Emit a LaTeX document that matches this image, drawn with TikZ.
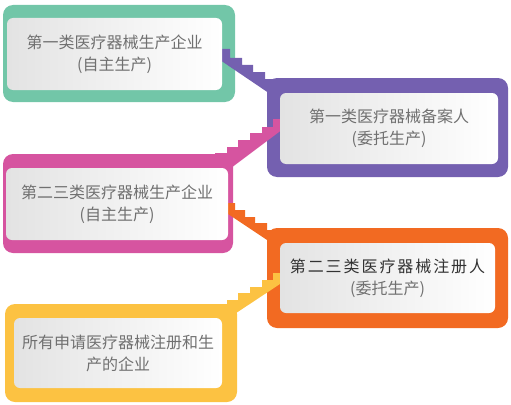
\documentclass[tikz,border=0pt]{standalone}
\usepackage{fontspec}
\setmainfont{Noto Sans CJK SC}
\newfontfamily\cjkspaced[LetterSpace=12]{Noto Sans CJK SC}
\definecolor{cgreen}{RGB}{114,198,168}
\definecolor{cpurple}{RGB}{116,96,176}
\definecolor{cpink}{RGB}{214,84,160}
\definecolor{corange}{RGB}{242,106,34}
\definecolor{cyellow}{RGB}{252,194,66}
\definecolor{ctext}{RGB}{112,112,112}
\definecolor{cdark}{RGB}{50,50,50}
\begin{document}
\begin{tikzpicture}[x=1pt,y=-1pt,
  outerbox/.style={draw=none,rounded corners=10pt,inner sep=0pt},
  innerbox/.style={draw=none,rounded corners=6pt,inner sep=0pt,left color=black!11,right color=white,
    text=ctext,align=center,font=\fontsize{16}{22}\selectfont}]
\useasboundingbox (0,0) rectangle (511,404);
% outer frames
\node[outerbox,fill=cgreen,minimum width=232pt,minimum height=97pt] (o1) at (119,53.5) {};
\node[outerbox,fill=cpurple,minimum width=241pt,minimum height=99pt] (o2) at (387.5,127.5) {};
\node[outerbox,fill=cpink,minimum width=230pt,minimum height=99pt] (o3) at (118,203.5) {};
\node[outerbox,fill=corange,minimum width=241pt,minimum height=100pt] (o4) at (387.5,278) {};
\node[outerbox,fill=cyellow,minimum width=232pt,minimum height=98pt] (o5) at (121,353) {};
% stair connectors
\fill[cpurple] (220,49) -- (230,49) -- (230,58) -- (242,58) -- (242,65) -- (253,65) -- (253,72)
  -- (265,72) -- (265,79) -- (285,79) -- (285,104) -- (220,60) -- cycle;
\fill[cpink] (283,119) -- (273,119) -- (273,127) -- (262,127) -- (262,133) -- (250,133) -- (250,140)
  -- (238,140) -- (238,147) -- (227,147) -- (227,153) -- (215,153) -- (215,180) -- (283,129) -- cycle;
\fill[corange] (225,203) -- (235,203) -- (235,210) -- (245,210) -- (245,217) -- (255,217) -- (255,223)
  -- (267,223) -- (267,230) -- (285,230) -- (285,252) -- (225,212) -- cycle;
\fill[cyellow] (283,273) -- (273,273) -- (273,280) -- (262,280) -- (262,287) -- (250,287) -- (250,293)
  -- (238,293) -- (238,300) -- (227,300) -- (227,304) -- (215,304) -- (215,327) -- (283,282) -- cycle;
% inner boxes
\node[innerbox,minimum width=215pt,minimum height=72pt] (b1) at (114.5,54) {第一类医疗器械生产企业\\(自主生产)};
\node[innerbox,minimum width=218pt,minimum height=71pt] (b2) at (389,128.5) {第一类医疗器械备案人\\(委托生产)};
\node[innerbox,minimum width=222pt,minimum height=72pt] (b3) at (117,204) {第二三类医疗器械生产企业\\(自主生产)};
\node[innerbox,minimum width=215pt,minimum height=70pt] (b4) at (387.5,278) {{\cjkspaced\color{cdark}第二三类医疗器械注册人}\\(委托生产)};
\node[innerbox,minimum width=208pt,minimum height=70pt] (b5) at (118,353) {所有申请医疗器械注册和生\\产的企业};
\end{tikzpicture}
\end{document}
